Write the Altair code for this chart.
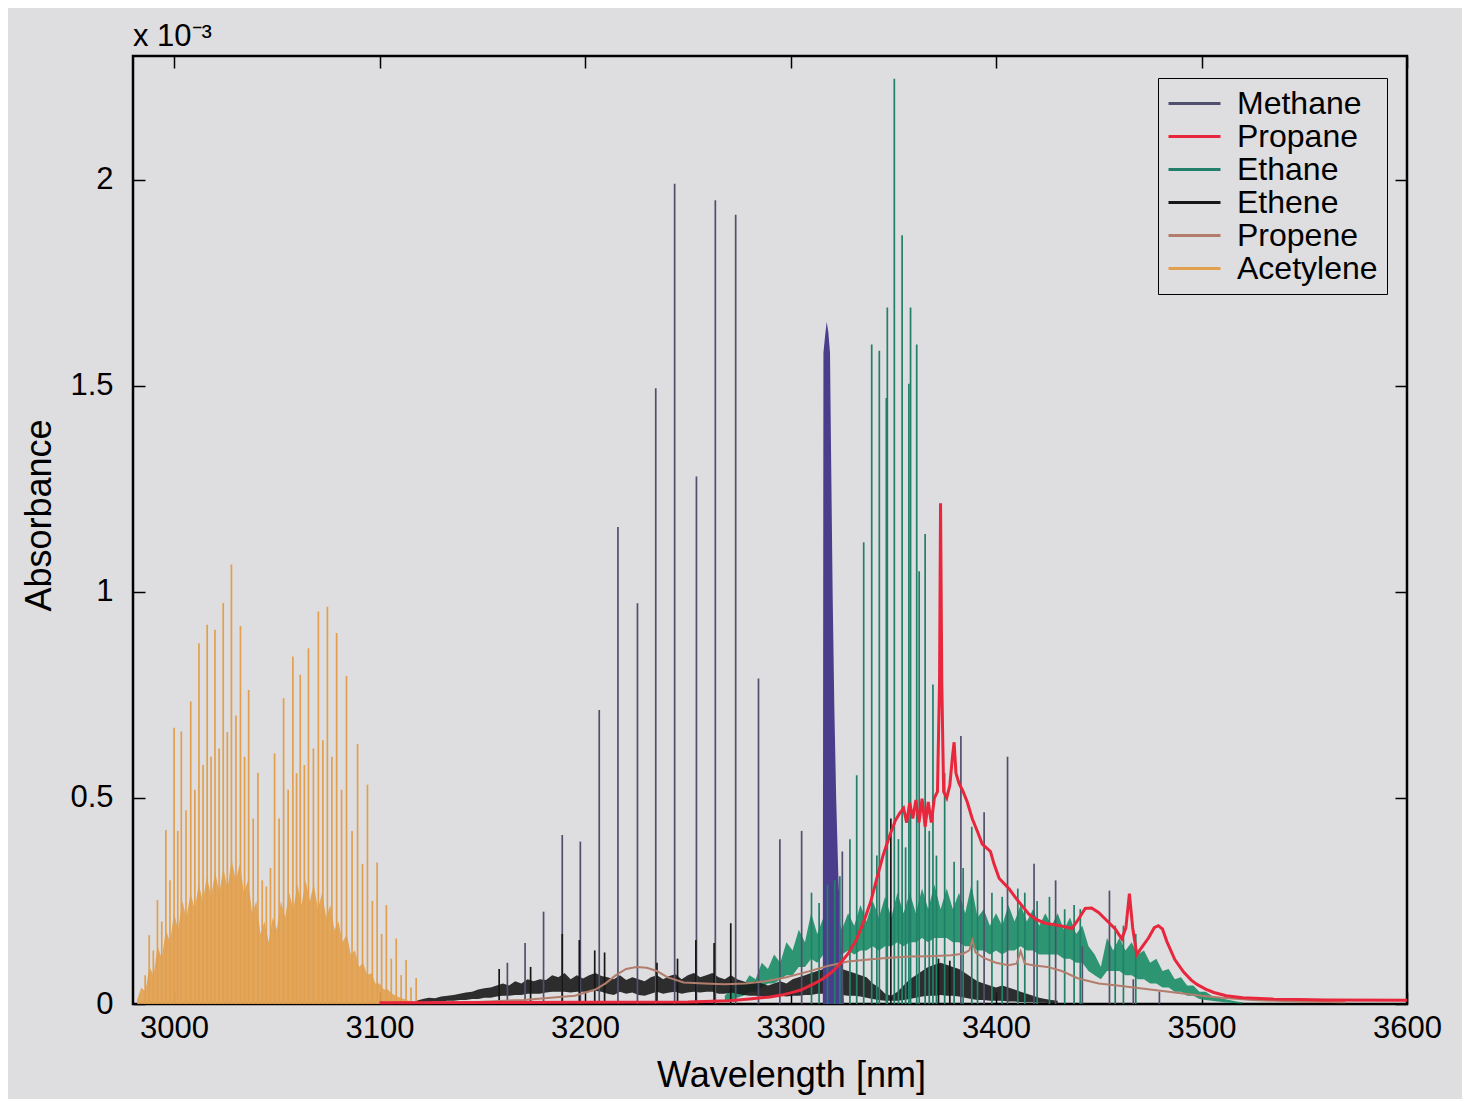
import altair as alt
import pandas as pd

FONT = "Liberation Sans"
BG = "#dedddf"

SPECIES = ["Methane", "Propane", "Ethane", "Ethene", "Propene", "Acetylene"]
COLORS = ["#50506e", "#e8263c", "#21806a", "#161616", "#b27d6c", "#e2a04e"]

X_TICKS = [3000, 3100, 3200, 3300, 3400, 3500, 3600]
Y_TICKS = [0, 0.5, 1, 1.5, 2]

# ---------------- Methane ----------------
METH_X = [3162.2, 3170.8, 3179.8, 3188.9, 3197.7, 3206.9, 3216.0, 3225.5, 3234.4, 3243.6,
          3254.2, 3263.4, 3273.3, 3284.4, 3294.8, 3305.4, 3325.2, 3382.9, 3394.2, 3405.6,
          3418.5, 3429.0, 3442.0, 3455.2, 3466.8, 3479.5]
METH_Y = [0.10, 0.148, 0.224, 0.41, 0.394, 0.713, 1.157, 0.972, 1.494, 1.99,
          1.28, 1.95, 1.915, 0.79, 0.40, 0.42, 0.37, 0.65, 0.465, 0.60,
          0.34, 0.30, 0.14, 0.275, 0.06, 0.03]
METH_Q_X = [3315.7, 3316.0, 3316.8, 3317.6, 3318.4, 3319.2, 3319.8, 3320.5, 3321.3, 3322.2,
            3323.2, 3324.5, 3326.0]
METH_Q_Y = [0.0, 1.58, 1.62, 1.655, 1.63, 1.58, 1.30, 0.99, 0.72, 0.50,
            0.32, 0.15, 0.0]

# ---------------- Ethane ----------------
ETHA_X = [3310.2, 3313.9, 3318.0, 3321.5, 3324.0, 3328.9, 3332.2, 3335.6, 3339.5, 3342.0,
          3343.2, 3346.6, 3347.1, 3350.5, 3352.5, 3354.3, 3356.0, 3357.6, 3358.4, 3361.4,
          3362.6, 3365.5, 3367.5, 3369.3, 3371.0, 3375.0, 3379.6, 3384.0, 3388.2, 3391.0,
          3398.0, 3403.0, 3410.6, 3414.0, 3420.0, 3426.0, 3433.4, 3438.0, 3441.0, 3458.0,
          3462.0, 3468.0]
ETHA_Y = [0.27, 0.245, 0.29, 0.30, 0.31, 0.40, 0.555, 1.12, 1.60, 0.36,
          1.585, 1.47, 1.69, 2.245, 0.40, 1.865, 0.38, 1.505, 1.69, 1.60,
          1.05, 1.14, 0.42, 0.775, 0.36, 0.56, 0.345, 0.33, 0.43, 0.30,
          0.27, 0.26, 0.28, 0.27, 0.25, 0.26, 0.23, 0.24, 0.23, 0.19,
          0.19, 0.17]
ETHA_BAND_X = [3268, 3271, 3274, 3277, 3280, 3283, 3286, 3289, 3292, 3295, 3298, 3301, 3304, 3307,
               3310, 3313, 3316, 3319, 3322, 3325, 3328, 3331, 3334, 3337, 3340, 3343, 3346, 3349,
               3352, 3355, 3358, 3361, 3364, 3367, 3370, 3373, 3376, 3379, 3382, 3385, 3388, 3391,
               3394, 3397, 3400, 3403, 3406, 3409, 3412, 3415, 3418, 3421, 3424, 3427, 3430, 3433,
               3436, 3439, 3442, 3445, 3448, 3451, 3454, 3457, 3460, 3463, 3466, 3469, 3472, 3475,
               3478, 3481, 3484, 3487, 3490, 3493, 3496, 3499, 3502, 3505, 3508, 3511, 3514, 3517,
               3520]
ETHA_BAND_HI = [0.02, 0.035, 0.05, 0.045, 0.07, 0.06, 0.10, 0.085, 0.12, 0.10, 0.15, 0.13, 0.18, 0.15,
                0.22, 0.17, 0.21, 0.17, 0.22, 0.18, 0.22, 0.19, 0.24, 0.20, 0.25, 0.21, 0.26, 0.21,
                0.27, 0.22, 0.27, 0.22, 0.28, 0.23, 0.29, 0.23, 0.28, 0.23, 0.27, 0.22, 0.29, 0.21,
                0.23, 0.19, 0.22, 0.19, 0.24, 0.20, 0.24, 0.20, 0.23, 0.19, 0.22, 0.19, 0.22, 0.18,
                0.21, 0.17, 0.19, 0.14, 0.12, 0.09, 0.16, 0.13, 0.16, 0.13, 0.15, 0.12, 0.13, 0.10,
                0.11, 0.08, 0.085, 0.06, 0.065, 0.045, 0.045, 0.03, 0.03, 0.02, 0.016, 0.012, 0.009, 0.006,
                0.004]
ETHA_BAND_LO = [0.005, 0.01, 0.015, 0.02, 0.03, 0.03, 0.04, 0.05, 0.05, 0.06, 0.07, 0.07, 0.09, 0.09,
                0.11, 0.10, 0.12, 0.11, 0.12, 0.12, 0.13, 0.12, 0.13, 0.13, 0.14, 0.13, 0.14, 0.14,
                0.15, 0.14, 0.15, 0.15, 0.16, 0.15, 0.16, 0.16, 0.16, 0.15, 0.15, 0.14, 0.14, 0.13,
                0.13, 0.12, 0.13, 0.12, 0.13, 0.13, 0.14, 0.13, 0.13, 0.12, 0.12, 0.12, 0.12, 0.11,
                0.11, 0.10, 0.10, 0.08, 0.07, 0.06, 0.08, 0.08, 0.08, 0.07, 0.07, 0.06, 0.06, 0.05,
                0.05, 0.04, 0.04, 0.03, 0.03, 0.02, 0.02, 0.012, 0.01, 0.008, 0.006, 0.004, 0.003, 0.002,
                0.001]

# ---------------- Ethene ----------------
ETHE_X = [3158.2, 3173.5, 3188.9, 3197.2, 3204.7, 3209.5, 3235.0, 3245.0, 3253.9, 3262.8,
          3270.9, 3348.8, 3372.0, 3377.5]
ETHE_Y = [0.085, 0.09, 0.17, 0.155, 0.13, 0.125, 0.10, 0.11, 0.155, 0.148,
          0.196, 0.45, 0.11, 0.105]
ETHE_BAND_X = [3118, 3121, 3124, 3127, 3130, 3133, 3136, 3139, 3142, 3145, 3148, 3151, 3154, 3157,
               3160, 3163, 3166, 3169, 3172, 3175, 3178, 3181, 3184, 3187, 3190, 3193, 3196, 3199,
               3202, 3205, 3208, 3211, 3214, 3217, 3220, 3223, 3226, 3229, 3232, 3235, 3238, 3241,
               3244, 3247, 3250, 3253, 3256, 3259, 3262, 3265, 3268, 3271, 3274, 3277, 3280, 3283,
               3286, 3289, 3292, 3295, 3298, 3301, 3304, 3307, 3310, 3313, 3316, 3319, 3322, 3325,
               3328, 3331, 3334, 3337, 3340, 3343, 3346, 3349, 3352, 3355, 3358, 3361, 3364, 3367,
               3370, 3373, 3376, 3379, 3382, 3385, 3388, 3391, 3394, 3397, 3400, 3403, 3406, 3409,
               3412, 3415, 3418, 3421, 3424, 3427, 3430]
ETHE_BAND_HI = [0.008, 0.012, 0.015, 0.014, 0.018, 0.02, 0.022, 0.025, 0.028, 0.03, 0.035, 0.038, 0.04, 0.045,
                0.05, 0.045, 0.055, 0.05, 0.06, 0.055, 0.06, 0.058, 0.07, 0.065, 0.075, 0.06, 0.07, 0.062,
                0.07, 0.075, 0.068, 0.065, 0.06, 0.07, 0.058, 0.065, 0.06, 0.055, 0.065, 0.07, 0.06, 0.068,
                0.072, 0.06, 0.07, 0.075, 0.065, 0.07, 0.075, 0.065, 0.06, 0.07, 0.06, 0.055, 0.05, 0.055,
                0.05, 0.045, 0.05, 0.055, 0.05, 0.06, 0.065, 0.07, 0.075, 0.08, 0.085, 0.08, 0.09, 0.085,
                0.08, 0.075, 0.07, 0.065, 0.05, 0.04, 0.025, 0.02, 0.03, 0.045, 0.06, 0.07, 0.08, 0.09,
                0.095, 0.10, 0.095, 0.09, 0.085, 0.075, 0.065, 0.055, 0.05, 0.045, 0.04, 0.045, 0.04, 0.035,
                0.03, 0.025, 0.02, 0.015, 0.012, 0.01, 0.008]
ETHE_BAND_LO = [0.0, 0.003, 0.005, 0.006, 0.006, 0.008, 0.008, 0.01, 0.01, 0.012, 0.012, 0.015, 0.015, 0.018,
                0.02, 0.02, 0.022, 0.022, 0.025, 0.025, 0.025, 0.028, 0.03, 0.03, 0.03, 0.028, 0.03, 0.03,
                0.03, 0.032, 0.03, 0.025, 0.022, 0.03, 0.025, 0.028, 0.022, 0.02, 0.025, 0.03, 0.025, 0.028,
                0.03, 0.025, 0.028, 0.03, 0.028, 0.03, 0.03, 0.025, 0.025, 0.028, 0.025, 0.022, 0.02, 0.02,
                0.018, 0.018, 0.018, 0.02, 0.018, 0.02, 0.02, 0.022, 0.022, 0.025, 0.025, 0.025, 0.025, 0.022,
                0.02, 0.02, 0.018, 0.015, 0.012, 0.01, 0.008, 0.008, 0.008, 0.01, 0.012, 0.015, 0.018, 0.02,
                0.02, 0.022, 0.02, 0.02, 0.018, 0.015, 0.012, 0.01, 0.01, 0.008, 0.008, 0.008, 0.006, 0.006,
                0.005, 0.004, 0.004, 0.003, 0.003, 0.002, 0.002]

# ---------------- Acetylene ----------------
ACET_X = [2987.9, 2991.9, 2996.0, 3000.0, 3003.5, 3008.1, 3012.1, 3016.1, 3019.9, 3023.9,
          3027.9, 3032.3, 3036.3, 3040.8, 3044.9, 3048.9, 3053.3, 3057.8, 3061.4, 3065.4,
          3070.2, 3074.6, 3079.1, 3083.9, 3089.3, 3094.1, 3098.8, 3103.3, 3108.1, 3112.9, 3117.8]
ACET_Y = [0.167, 0.252, 0.422, 0.670, 0.661, 0.734, 0.875, 0.920, 0.908, 0.973,
          1.066, 0.917, 0.762, 0.561, 0.285, 0.608, 0.742, 0.843, 0.799, 0.863,
          0.952, 0.964, 0.900, 0.796, 0.631, 0.532, 0.343, 0.240, 0.159, 0.107, 0.063]
ACET2_X = [2985.9, 2989.9, 2994.0, 2998.0, 3001.8, 3005.8, 3010.1, 3014.1, 3018.0, 3021.9,
           3025.9, 3030.1, 3034.3, 3038.5, 3042.9, 3046.9, 3051.1, 3055.5, 3059.6, 3063.4,
           3067.8, 3072.4, 3076.8, 3081.5, 3086.6, 3091.7, 3096.5, 3101.0, 3105.7, 3110.5, 3115.3]
ACET2_Y = [0.07, 0.13, 0.20, 0.30, 0.42, 0.47, 0.52, 0.58, 0.60, 0.62,
           0.66, 0.70, 0.60, 0.45, 0.30, 0.33, 0.45, 0.52, 0.56, 0.58,
           0.62, 0.64, 0.60, 0.52, 0.42, 0.34, 0.25, 0.17, 0.11, 0.07, 0.04]
ACET_BAND_X = [2982, 2984, 2986, 2988, 2990, 2992, 2994, 2996, 2998, 3000, 3002, 3004, 3006, 3008,
               3010, 3012, 3014, 3016, 3018, 3020, 3022, 3024, 3026, 3028, 3030, 3032, 3034, 3036,
               3038, 3040, 3042, 3044, 3046, 3048, 3050, 3052, 3054, 3056, 3058, 3060, 3062, 3064,
               3066, 3068, 3070, 3072, 3074, 3076, 3078, 3080, 3082, 3084, 3086, 3088, 3090, 3092,
               3094, 3096, 3098, 3100, 3102, 3104, 3106, 3108, 3110, 3112, 3114, 3116, 3118, 3120]
ACET_BAND_Y = [0.01, 0.04, 0.03, 0.09, 0.07, 0.14, 0.11, 0.18, 0.15, 0.22, 0.18, 0.25, 0.21, 0.27,
               0.23, 0.29, 0.25, 0.31, 0.26, 0.32, 0.27, 0.33, 0.28, 0.35, 0.30, 0.34, 0.27, 0.30,
               0.22, 0.25, 0.17, 0.20, 0.15, 0.21, 0.18, 0.25, 0.21, 0.27, 0.23, 0.29, 0.24, 0.30,
               0.25, 0.29, 0.23, 0.27, 0.21, 0.24, 0.18, 0.20, 0.15, 0.17, 0.12, 0.13, 0.09, 0.10,
               0.07, 0.075, 0.05, 0.05, 0.035, 0.035, 0.025, 0.02, 0.015, 0.012, 0.008, 0.006, 0.004, 0.002]

# ---------------- Propane ----------------
PROPANE_X = [3100, 3200, 3250, 3270, 3280, 3290, 3295, 3300, 3305, 3311, 3316, 3320, 3324, 3328,
             3332, 3336, 3339, 3342, 3345, 3348, 3351, 3353, 3355, 3356.5, 3358, 3359.5, 3361, 3362.5,
             3364, 3365.5, 3367, 3368.5, 3370, 3371.5, 3372.5, 3373.0, 3373.6, 3374.5, 3376.0, 3377.5,
             3378.8, 3379.6, 3380.5, 3382.0, 3384.0, 3386.0, 3388.4, 3391.0, 3393.3, 3395.5, 3397.3,
             3399.0, 3401.5, 3406.3, 3409.5, 3412.7, 3416.0, 3419.2, 3424.0, 3428.9, 3433.0, 3437.0,
             3440.0, 3443.4, 3446.5, 3449.9, 3454.0, 3458.0, 3461.2, 3463.2, 3464.9, 3466.5, 3468.5,
             3471.0, 3474.2, 3477.0, 3479.0, 3481.0, 3483.1, 3487.0, 3491.2, 3495.0, 3498.0, 3502.0,
             3506.0, 3512.0, 3520.0, 3535.0, 3560.0, 3600.0]
PROPANE_Y = [0.003, 0.004, 0.005, 0.008, 0.012, 0.017, 0.021, 0.027, 0.034, 0.048, 0.062, 0.077, 0.097, 0.122,
             0.155, 0.205, 0.248, 0.305, 0.36, 0.405, 0.445, 0.462, 0.475, 0.44, 0.488, 0.45, 0.495, 0.44,
             0.498, 0.43, 0.49, 0.44, 0.50, 0.515, 0.78, 1.215, 0.78, 0.515, 0.50, 0.53,
             0.60, 0.635, 0.56, 0.535, 0.515, 0.49, 0.45, 0.418, 0.388, 0.378, 0.37,
             0.34, 0.305, 0.28, 0.258, 0.238, 0.218, 0.206, 0.196, 0.192, 0.188, 0.183,
             0.205, 0.232, 0.233, 0.222, 0.202, 0.182, 0.158, 0.185, 0.268, 0.185, 0.12,
             0.138, 0.16, 0.185, 0.19, 0.182, 0.152, 0.108, 0.078, 0.058, 0.047, 0.036,
             0.028, 0.02, 0.015, 0.012, 0.01, 0.009]

# ---------------- Propene ----------------
PROPENE_X = [3140, 3170, 3195, 3205, 3210, 3215, 3220, 3225, 3230, 3235, 3240, 3248, 3258, 3268,
             3278, 3288, 3298, 3308, 3318, 3328, 3338, 3348, 3358, 3368, 3378, 3384, 3387, 3388.5,
             3390, 3394, 3400, 3406, 3410, 3412, 3414, 3418, 3425, 3432, 3440, 3450, 3460, 3470,
             3480, 3490, 3500, 3510, 3525, 3545, 3570]
PROPENE_Y = [0.003, 0.01, 0.02, 0.035, 0.05, 0.07, 0.085, 0.09, 0.088, 0.08, 0.065, 0.052, 0.05, 0.048,
             0.05, 0.055, 0.065, 0.078, 0.092, 0.103, 0.108, 0.112, 0.115, 0.116, 0.118, 0.122, 0.13, 0.155,
             0.125, 0.112, 0.10, 0.094, 0.098, 0.128, 0.098, 0.094, 0.09, 0.08, 0.062, 0.05, 0.044, 0.038,
             0.032, 0.026, 0.02, 0.015, 0.01, 0.006, 0.004]

# ---------------- tables ----------------
sticks = pd.DataFrame({
    "x": METH_X + ETHA_X + ACET2_X + ACET_X + ETHE_X,
    "y": METH_Y + ETHA_Y + ACET2_Y + ACET_Y + ETHE_Y,
    "species": (["Methane"] * len(METH_X) + ["Ethane"] * len(ETHA_X)
                + ["Acetylene"] * (len(ACET2_X) + len(ACET_X)) + ["Ethene"] * len(ETHE_X)),
})
acet_band = pd.DataFrame({"x": ACET_BAND_X, "y": ACET_BAND_Y})
etha_band = pd.DataFrame({"x": ETHA_BAND_X, "hi": ETHA_BAND_HI, "lo": ETHA_BAND_LO})
ethe_band = pd.DataFrame({"x": ETHE_BAND_X, "hi": ETHE_BAND_HI, "lo": ETHE_BAND_LO})
meth_q = pd.DataFrame({"x": METH_Q_X, "y": METH_Q_Y})
propane = pd.DataFrame({"x": PROPANE_X, "y": PROPANE_Y})
propene = pd.DataFrame({"x": PROPENE_X, "y": PROPENE_Y})

xs = alt.Scale(domain=[2980, 3600], nice=False, zero=False)
ys = alt.Scale(domain=[0, 2.3], nice=False, zero=False)

common = dict(tickSize=12, tickWidth=1.5, tickColor="black", domain=False, grid=False,
              labelFont=FONT, labelFontSize=31, labelColor="black",
              titleFont=FONT, titleFontSize=36, titleFontWeight="normal", titleColor="black")

axis_bottom = alt.Axis(orient="bottom", values=X_TICKS, format="d", offset=-12, labelPadding=9,
                       labelFlush=False, title="Wavelength [nm]", titleX=658, titleY=94,
                       titleBaseline="alphabetic", **common)
axis_left = alt.Axis(orient="left", values=Y_TICKS, format="~g", offset=-12, labelPadding=20,
                     title="Absorbance", titleX=-95, titleY=459, titleBaseline="alphabetic",
                     titleAngle=270, **common)
axis_top = alt.Axis(orient="top", values=X_TICKS, offset=-12, labels=False, title=None,
                    tickSize=12, tickWidth=1.5, tickColor="black", domain=False, grid=False)
axis_right = alt.Axis(orient="right", values=Y_TICKS, offset=-12, labels=False, title=None,
                      tickSize=12, tickWidth=1.5, tickColor="black", domain=False, grid=False)

acet_layer = alt.Chart(acet_band).mark_area(color=COLORS[5], opacity=0.9).encode(
    x=alt.X("x:Q", scale=xs, axis=axis_bottom),
    y=alt.Y("y:Q", scale=ys, axis=axis_left),
    y2=alt.datum(0),
)
etha_layer = alt.Chart(etha_band).mark_area(color="#23906c", opacity=0.95).encode(
    x=alt.X("x:Q", scale=xs, axis=None),
    y=alt.Y("hi:Q", scale=ys, axis=None),
    y2="lo:Q",
)
ethe_layer = alt.Chart(ethe_band).mark_area(color="#1a1a1a", opacity=0.9).encode(
    x=alt.X("x:Q", scale=xs, axis=None),
    y=alt.Y("hi:Q", scale=ys, axis=None),
    y2="lo:Q",
)
methq_layer = alt.Chart(meth_q).mark_area(color="#4a3d8c").encode(
    x=alt.X("x:Q", scale=xs, axis=None),
    y=alt.Y("y:Q", scale=ys, axis=None),
    y2=alt.datum(0),
)
stick_layer = alt.Chart(sticks).mark_rule(strokeWidth=1.7).encode(
    x=alt.X("x:Q", scale=xs, axis=None),
    y=alt.Y("y:Q", scale=ys, axis=None),
    y2=alt.datum(0),
    color=alt.Color(
        "species:N",
        scale=alt.Scale(domain=SPECIES, range=COLORS),
        legend=alt.Legend(
            title=None, orient="none", legendX=1025, legendY=22,
            symbolType="stroke", symbolSize=2704, symbolStrokeWidth=3,
            labelFont=FONT, labelFontSize=32, labelColor="black", labelOffset=15,
            labelLimit=400, padding=9, rowPadding=0, clipHeight=33,
            strokeColor="black", fillColor=BG,
        ),
    ),
)
propene_layer = alt.Chart(propene).mark_line(color=COLORS[4], strokeWidth=2).encode(
    x=alt.X("x:Q", scale=xs, axis=None),
    y=alt.Y("y:Q", scale=ys, axis=None),
)
propane_layer = alt.Chart(propane).mark_line(color=COLORS[1], strokeWidth=3).encode(
    x=alt.X("x:Q", scale=xs, axis=axis_top),
    y=alt.Y("y:Q", scale=ys, axis=axis_right),
)

chart = (
    alt.layer(acet_layer, etha_layer, ethe_layer, methq_layer, stick_layer, propene_layer, propane_layer)
    .resolve_axis(x="independent", y="independent")
    .properties(
        width=1274, height=948,
        autosize=alt.AutoSizeParams(type="none"),
        padding={"left": 125, "top": 48, "right": 55, "bottom": 95},
        title=alt.TitleParams("x 10⁻³", anchor="start", frame="group", offset=8, dy=30,
                              baseline="alphabetic", font=FONT, fontSize=31,
                              fontWeight="normal", color="black"),
    )
    .configure(background=BG)
    .configure_view(stroke="black", strokeWidth=2.5)
)

chart.save("out.html", embed_options={"renderer": "svg", "actions": False})
